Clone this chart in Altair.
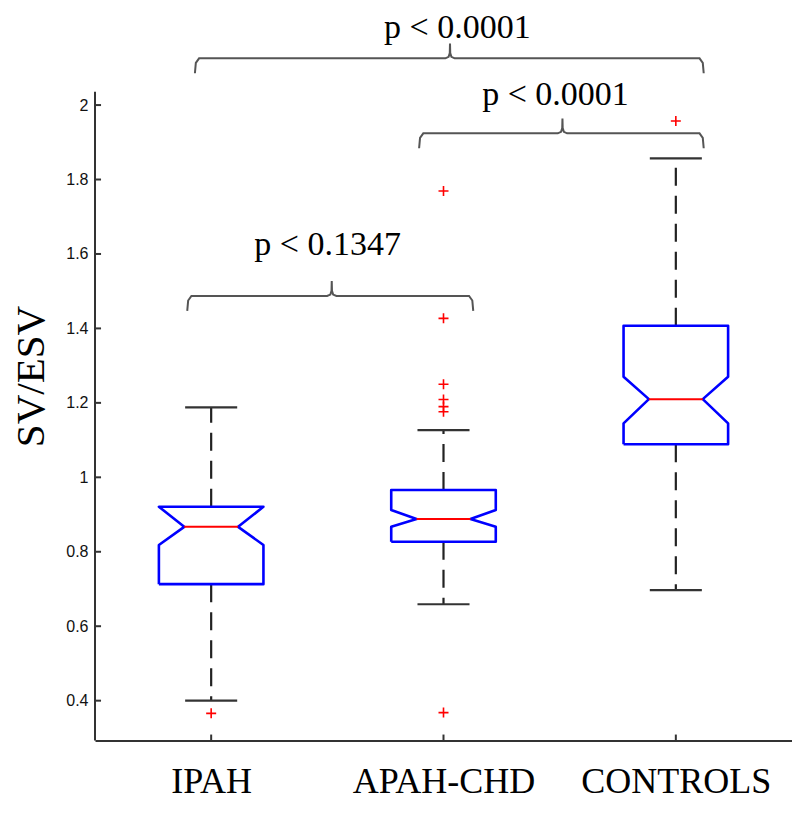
import altair as alt
import pandas as pd

# ---------------- data ----------------
groups = ["IPAH", "APAH-CHD", "CONTROLS"]
positions = [1, 2, 3]
q1 = [0.713, 0.827, 1.089]
notch_lo = [0.818, 0.867, 1.145]
median = [0.867, 0.888, 1.210]
notch_hi = [0.921, 0.912, 1.270]
q3 = [0.921, 0.966, 1.407]
whisker_lo = [0.400, 0.659, 0.697]
whisker_hi = [1.188, 1.127, 1.857]

outlier_group = ["IPAH", "APAH-CHD", "APAH-CHD", "APAH-CHD", "APAH-CHD",
                 "APAH-CHD", "APAH-CHD", "APAH-CHD", "CONTROLS"]
outlier_value = [0.366, 1.769, 1.427, 1.250, 1.209, 1.190, 1.176, 0.368, 1.957]

y_ticks = [0.4, 0.6, 0.8, 1, 1.2, 1.4, 1.6, 1.8, 2]

p_labels = ["p < 0.0001", "p < 0.0001", "p < 0.1347"]
bracket_from = [0.93, 1.895, 0.897]
bracket_to = [3.12, 3.12, 2.128]
bracket_mid = [2.028, 2.512, 1.519]
bracket_level = [2.1255, 1.924, 1.487]
label_x = [2.06, 2.482, 1.501]
label_y = [2.179, 1.999, 1.596]

# ---------------- layout constants ----------------
X_MIN, X_MAX = 0.5, 3.5
Y_MIN, Y_MAX = 0.293, 2.25
Y_AXIS_TOP = 2.036
BOX_HALF = 0.225
NOTCH_HALF = 0.116
CAP_HALF = 0.112
TICK_LEN_X = 0.026
TICK_LEN_Y = 0.016
DROP = 0.04
RISE = 0.04

pos_of = dict(zip(groups, positions))

# notched box outlines
box_rows = []
for g, p, a, nl, m, nh, b in zip(groups, positions, q1, notch_lo, median, notch_hi, q3):
    pts = [(-BOX_HALF, a), (-BOX_HALF, nl), (-NOTCH_HALF, m), (-BOX_HALF, nh),
           (-BOX_HALF, b), (BOX_HALF, b), (BOX_HALF, nh), (NOTCH_HALF, m),
           (BOX_HALF, nl), (BOX_HALF, a), (-BOX_HALF, a)]
    for i, (dx, yy) in enumerate(pts):
        box_rows.append({"group": g, "x": p + dx, "y": yy, "o": i})
box_df = pd.DataFrame(box_rows)

stats_df = pd.DataFrame({
    "group": groups, "pos": positions, "q1": q1, "q3": q3, "median": median,
    "wlo": whisker_lo, "whi": whisker_hi,
})
stats_df["m_lo"] = stats_df["pos"] - NOTCH_HALF
stats_df["m_hi"] = stats_df["pos"] + NOTCH_HALF
stats_df["c_lo"] = stats_df["pos"] - CAP_HALF
stats_df["c_hi"] = stats_df["pos"] + CAP_HALF

whisk_df = pd.DataFrame({
    "x": positions * 2,
    "y1": q3 + q1,
    "y2": whisker_hi + whisker_lo,
})
cap_df = pd.DataFrame({
    "x1": list(stats_df["c_lo"]) * 2,
    "x2": list(stats_df["c_hi"]) * 2,
    "y": whisker_hi + whisker_lo,
})

out_df = pd.DataFrame({"x": [pos_of[g] for g in outlier_group], "y": outlier_value})

# brackets
br_rows = []
for k, (L, R, T, yv) in enumerate(zip(bracket_from, bracket_to, bracket_mid, bracket_level)):
    pts = [(L, yv - DROP), (L + 0.004, yv - 0.012), (L + 0.018, yv),
           (T - 0.02, yv), (T - 0.006, yv + 0.004), (T - 0.001, yv + 0.014), (T, yv + RISE),
           (T + 0.001, yv + 0.014), (T + 0.006, yv + 0.004), (T + 0.02, yv),
           (R - 0.018, yv), (R - 0.004, yv - 0.012), (R, yv - DROP)]
    for i, (xx, yy) in enumerate(pts):
        br_rows.append({"b": k, "x": xx, "y": yy, "o": i})
br_df = pd.DataFrame(br_rows)

txt_df = pd.DataFrame({"x": label_x, "y": label_y, "t": p_labels})

ytick_df = pd.DataFrame({"y": y_ticks})
ytick_df["x1"] = X_MIN
ytick_df["x2"] = X_MIN + TICK_LEN_X
xtick_df = pd.DataFrame({"x": positions})
xtick_df["y1"] = Y_MIN
xtick_df["y2"] = Y_MIN + TICK_LEN_Y
yaxis_df = pd.DataFrame({"x": [X_MIN], "y1": [Y_MIN], "y2": [Y_AXIS_TOP]})

# ---------------- scales & axes ----------------
xs = alt.Scale(domain=[X_MIN, X_MAX], nice=False, zero=False)
ys = alt.Scale(domain=[Y_MIN, Y_MAX], nice=False, zero=False)

label_expr = "[" + ",".join("'" + g + "'" for g in groups) + "][datum.value - 1]"
x_axis = alt.Axis(values=positions, labelExpr=label_expr, title=None, grid=False,
                  ticks=False, domain=True, domainColor="#333", domainWidth=2,
                  labelFont="Liberation Serif", labelFontSize=36, labelColor="black",
                  labelPadding=52, labelBaseline="alphabetic", labelLimit=400,
                  labelOverlap=False)
y_axis = alt.Axis(values=y_ticks, format="~g", title="SV/ESV", grid=False,
                  ticks=False, domain=False,
                  labelFont="Liberation Sans", labelFontSize=16, labelColor="#111",
                  labelPadding=7,
                  titleFont="Liberation Serif", titleFontSize=41, titleFontWeight="normal",
                  titleColor="black", titleAngle=270, titleX=-52, titleY=364,
                  titleAlign="center", titleBaseline="alphabetic")


def X(field):
    return alt.X(field, scale=xs, axis=x_axis)


def Y(field):
    return alt.Y(field, scale=ys, axis=y_axis)


base_axes = alt.Chart(yaxis_df).mark_rule(color="#333", strokeWidth=2).encode(
    x=X("x:Q"), y=Y("y1:Q"), y2="y2:Q",
)
yticks = alt.Chart(ytick_df).mark_rule(color="#333", strokeWidth=2).encode(
    x=X("x1:Q"), x2="x2:Q", y=Y("y:Q"),
)
xticks = alt.Chart(xtick_df).mark_rule(color="#333", strokeWidth=2).encode(
    x=X("x:Q"), y=Y("y1:Q"), y2="y2:Q",
)
whiskers = alt.Chart(whisk_df).mark_rule(color="#222", strokeWidth=2.2,
                                         strokeDash=[18, 10]).encode(
    x=X("x:Q"), y=Y("y1:Q"), y2="y2:Q",
)
caps = alt.Chart(cap_df).mark_rule(color="#333", strokeWidth=2.2).encode(
    x=X("x1:Q"), x2="x2:Q", y=Y("y:Q"),
)
boxes = alt.Chart(box_df).mark_line(color="#0000ff", strokeWidth=2.6,
                                    strokeJoin="round").encode(
    x=X("x:Q"), y=Y("y:Q"), detail="group:N", order="o:Q",
)
medians = alt.Chart(stats_df).mark_rule(color="#ff0000", strokeWidth=2).encode(
    x=X("m_lo:Q"), x2="m_hi:Q", y=Y("median:Q"),
)
outliers = alt.Chart(out_df).mark_point(shape="M-1,0L1,0M0,-1L0,1", size=100,
                                        filled=False, color="#ff0000",
                                        strokeWidth=1.6, opacity=1).encode(
    x=X("x:Q"), y=Y("y:Q"),
)
brackets = alt.Chart(br_df).mark_line(color="#555", strokeWidth=2).encode(
    x=X("x:Q"), y=Y("y:Q"), detail="b:N", order="o:Q",
)
texts = alt.Chart(txt_df).mark_text(font="Liberation Serif", fontSize=34,
                                    baseline="alphabetic", align="center",
                                    color="black").encode(
    x=X("x:Q"), y=Y("y:Q"), text="t:N",
)

chart = alt.layer(
    base_axes, yticks, xticks, whiskers, caps, boxes, medians, outliers, brackets, texts
).properties(
    width=697, height=728.5,
    autosize=alt.AutoSizeParams(type="none"),
    padding={"left": 87, "top": 4, "right": 0, "bottom": 72},
    background="white",
).configure_view(stroke=None)

chart.save("out.html", embed_options={"renderer": "svg", "actions": False})
